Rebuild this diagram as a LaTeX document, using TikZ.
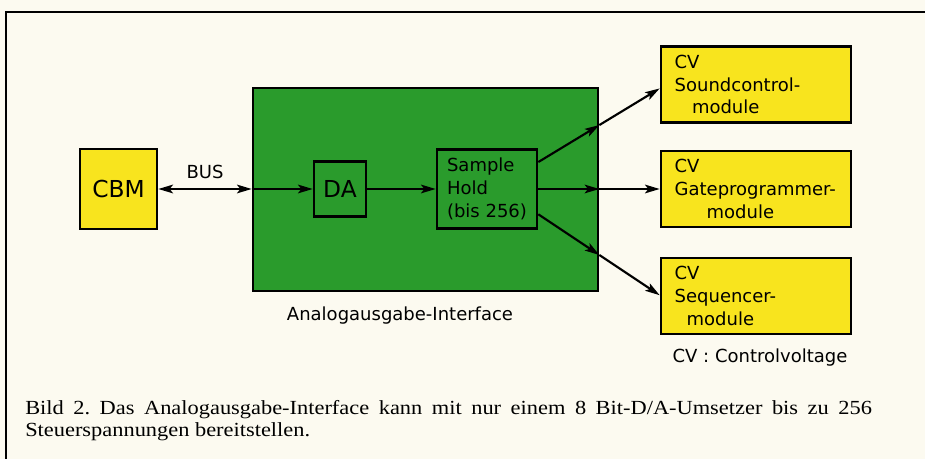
\documentclass[tikz,border=0pt]{standalone}
\usepackage{fontspec}
\setmainfont{Liberation Serif}
\newfontfamily\capfont[FakeStretch=1.12]{Liberation Serif}
\newfontfamily\dinfont{DejaVu Sans}
\usetikzlibrary{arrows.meta,calc}
\definecolor{paper}{RGB}{252,250,240}
\definecolor{boardgreen}{RGB}{42,155,44}
\definecolor{modyellow}{RGB}{248,228,30}
\tikzset{
  px/.style={x=0.75pt,y=-0.75pt},
  blk/.style={draw=black,line width=2pt,inner sep=0pt,font=\dinfont\fontsize{13.5pt}{17pt}\selectfont},
  ybox/.style={blk,fill=modyellow},
  gbox/.style={blk,fill=boardgreen},
  cvbox/.style={ybox,minimum width=142.5pt,minimum height=57pt,align=left,text width=122pt},
  conn/.style={line width=1.6pt,-{Stealth[length=11pt,width=6.5pt,inset=2.5pt]}},
  biconn/.style={line width=1.6pt,{Stealth[length=11pt,width=6.5pt,inset=2.5pt]}-{Stealth[length=11pt,width=6.5pt,inset=2.5pt]}},
  lbl/.style={font=\dinfont\fontsize{13.5pt}{17pt}\selectfont,inner sep=0pt},
}
\begin{document}
\begin{tikzpicture}[px]
\useasboundingbox (0,0) rectangle (925,459);
\fill[paper] (0,0) rectangle (925,459);
\draw[line width=1.6pt] (925,12) -- (6,12) -- (6,459);

\node[gbox,minimum width=258.75pt,minimum height=152.25pt] (green) at (425.5,189.5) {};
\node[ybox,minimum width=57.75pt,minimum height=60pt,font=\dinfont\fontsize{17.5pt}{20pt}\selectfont] (cbm) at (118.5,189) {CBM};
\node[gbox,minimum width=39pt,minimum height=41.25pt,font=\dinfont\fontsize{17.5pt}{20pt}\selectfont] (da) at (340,189) {DA};
\node[gbox,minimum width=75pt,minimum height=59.25pt,align=left] (sh) at (487,189) {Sample\\Hold\\(bis 256)};

\node[cvbox] (sc) at (756,84.5) {CV\\Soundcontrol-\\\hspace*{13pt}module};
\node[cvbox] (gp) at (756,189) {CV\\Gateprogrammer-\\\hspace*{24pt}module};
\node[cvbox] (sq) at (756,296) {CV\\Sequencer-\\\hspace*{9pt}module};

\node[lbl] (bus) at (205,172) {BUS};
\node[lbl] (ai) at (400,316) {Analogausgabe-Interface};
\node[lbl] (cvl) at (760,358) {CV : Controlvoltage};

% bus
\coordinate (b1) at (green.west |- cbm.east);
\draw[biconn] (cbm.east) -- (b1);
\draw[conn] (b1) -- (da.west);
\draw[conn] (da.east) -- (sh.west);

% outputs
\coordinate (u0) at ($(sh.north east)!0.17!(sh.south east)$);
\coordinate (u1) at ($(sc.north west)!0.55!(sc.south west)$);
\coordinate (ub) at (intersection of u0--u1 and green.north east--green.south east);
\draw[conn] (u0) -- (ub);
\draw[conn] (ub) -- (u1);

\coordinate (mb) at (green.east |- sh.east);
\draw[conn] (sh.east) -- (mb);
\draw[conn] (mb) -- (gp.west);

\coordinate (l0) at ($(sh.north east)!0.81!(sh.south east)$);
\coordinate (l1) at ($(sq.north west)!0.49!(sq.south west)$);
\coordinate (lb) at (intersection of l0--l1 and green.north east--green.south east);
\draw[conn] (l0) -- (lb);
\draw[conn] (lb) -- (l1);

\node[anchor=base west,inner sep=0pt,text width=635pt,align=justify,font=\capfont\fontsize{15pt}{16.5pt}\selectfont] (cap) at (25,415)
{\frenchspacing Bild 2. Das Analogausgabe-Interface kann mit nur einem 8 Bit-D/A-Umsetzer bis zu 256\linebreak Steuerspannungen bereitstellen.};
\end{tikzpicture}
\end{document}
